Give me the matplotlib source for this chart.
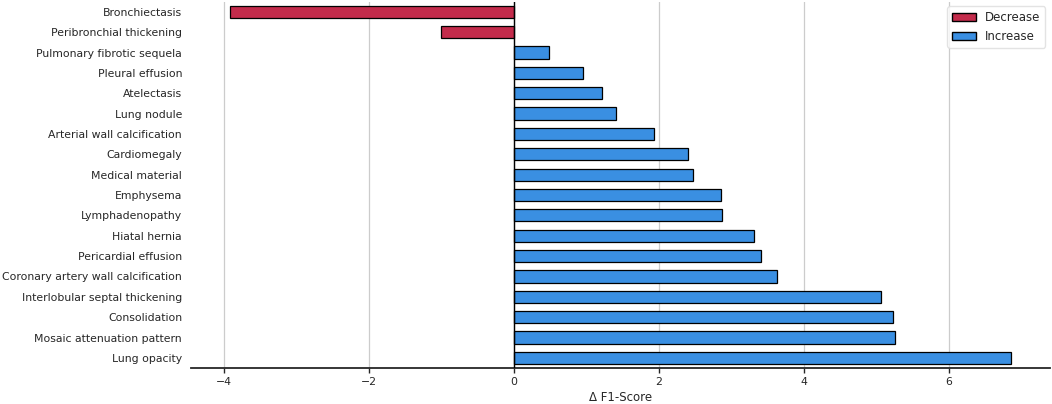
import matplotlib
matplotlib.use("Agg")
import matplotlib.pyplot as plt
from matplotlib.patches import Patch

# Change in F1 per finding
findings = [
    "Bronchiectasis", "Peribronchial thickening", "Pulmonary fibrotic sequela",
    "Pleural effusion", "Atelectasis", "Lung nodule", "Arterial wall calcification",
    "Cardiomegaly", "Medical material", "Emphysema", "Lymphadenopathy",
    "Hiatal hernia", "Pericardial effusion", "Coronary artery wall calcification",
    "Interlobular septal thickening", "Consolidation", "Mosaic attenuation pattern",
    "Lung opacity",
]
delta_f1 = [
    -3.91, -1.01, 0.49, 0.95, 1.21, 1.41, 1.93, 2.40, 2.47, 2.85, 2.87,
    3.31, 3.41, 3.63, 5.06, 5.23, 5.25, 6.85,
]

red = "#c32b4b"
blue = "#3a8fe2"
text_col = "#262626"

fig = plt.figure(figsize=(10.52, 4.04), dpi=100)
ax = fig.add_axes([0.1816, 0.089, 0.8164, 0.907])

ypos = list(range(len(findings)))
colors = [red if v < 0 else blue for v in delta_f1]
ax.barh(ypos, delta_f1, height=0.6, color=colors, edgecolor="black", linewidth=0.9, zorder=3)
ax.axvline(0, color="black", linewidth=1.0, zorder=4)

ax.set_yticks(ypos)
ax.set_yticklabels(findings, fontsize=7.8, color=text_col)
ax.set_ylim(len(findings) - 0.5, -0.5)
ax.tick_params(axis="y", length=0, pad=6.5)
ax.tick_params(axis="x", labelsize=7.8, colors=text_col, length=3.5, width=1.0, pad=3)

ax.grid(axis="x", color="#cccccc", linewidth=0.9, zorder=0)
ax.set_axisbelow(True)
for side in ["top", "right", "left"]:
    ax.spines[side].set_visible(False)
ax.spines["bottom"].set_color(text_col)
ax.spines["bottom"].set_linewidth(1.3)

ax.set_xlabel("\u0394 F1-Score", fontsize=8.5, color=text_col, labelpad=3)

legend_elements = [Patch(facecolor=red, edgecolor="black", label="Decrease"),
                   Patch(facecolor=blue, edgecolor="black", label="Increase")]
leg = ax.legend(handles=legend_elements, loc="upper right", fontsize=8.5,
                frameon=True, borderaxespad=0.4)
leg.get_frame().set_edgecolor("#dddddd")
for t in leg.get_texts():
    t.set_color(text_col)

plt.savefig("out.png", dpi=100)
